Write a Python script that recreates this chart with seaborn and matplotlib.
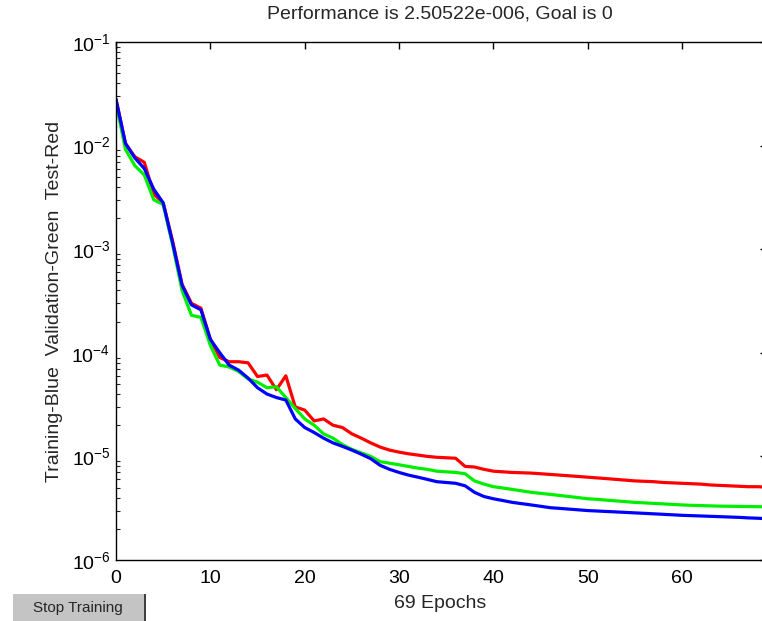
import numpy as np
import pandas as pd
import matplotlib
matplotlib.use("Agg")
import matplotlib.pyplot as plt
import seaborn as sns
from matplotlib.patches import Rectangle
from matplotlib.ticker import LogLocator, LogFormatterSciNotation, FixedLocator

# ---------------- data ----------------
epochs = list(range(70))

train_blue = [
    0.028, 0.0105, 0.0076, 0.0060, 0.0038, 0.0028, 0.00115, 0.00045, 0.00029, 0.00026,
    1.35e-4, 1.0e-4, 7.6e-5, 6.8e-5, 5.7e-5, 4.6e-5, 4.0e-5, 3.7e-5, 3.5e-5, 2.3e-5,
    1.9e-5, 1.7e-5, 1.5e-5, 1.35e-5, 1.25e-5, 1.15e-5, 1.05e-5, 9.5e-6, 8.2e-6, 7.5e-6,
    7.0e-6, 6.6e-6, 6.3e-6, 6.0e-6, 5.7e-6, 5.6e-6, 5.5e-6, 5.2e-6, 4.5e-6, 4.1e-6,
    3.9e-6, 3.75e-6, 3.6e-6, 3.5e-6, 3.4e-6, 3.3e-6, 3.2e-6, 3.15e-6, 3.1e-6, 3.05e-6,
    3.0e-6, 2.97e-6, 2.94e-6, 2.91e-6, 2.88e-6, 2.85e-6, 2.82e-6, 2.79e-6, 2.76e-6, 2.73e-6,
    2.70e-6, 2.68e-6, 2.66e-6, 2.64e-6, 2.62e-6, 2.60e-6, 2.58e-6, 2.55e-6, 2.53e-6, 2.505e-6,
]

valid_green = [
    0.026, 0.0092, 0.0064, 0.0052, 0.0030, 0.0027, 0.0011, 0.00040, 0.00023, 0.00022,
    1.18e-4, 7.6e-5, 7.3e-5, 6.6e-5, 5.6e-5, 5.2e-5, 4.6e-5, 4.7e-5, 3.7e-5, 2.9e-5,
    2.3e-5, 2.0e-5, 1.65e-5, 1.5e-5, 1.3e-5, 1.17e-5, 1.08e-5, 1.0e-5, 8.9e-6, 8.6e-6,
    8.3e-6, 8.0e-6, 7.7e-6, 7.5e-6, 7.2e-6, 7.1e-6, 7.0e-6, 6.8e-6, 5.8e-6, 5.4e-6,
    5.1e-6, 4.95e-6, 4.8e-6, 4.65e-6, 4.5e-6, 4.4e-6, 4.3e-6, 4.2e-6, 4.1e-6, 4.0e-6,
    3.9e-6, 3.85e-6, 3.78e-6, 3.72e-6, 3.66e-6, 3.6e-6, 3.56e-6, 3.52e-6, 3.48e-6, 3.44e-6,
    3.4e-6, 3.37e-6, 3.35e-6, 3.33e-6, 3.31e-6, 3.3e-6, 3.29e-6, 3.28e-6, 3.27e-6, 3.26e-6,
]

test_red = [
    0.028, 0.0105, 0.0078, 0.0069, 0.0034, 0.0028, 0.0012, 0.00046, 0.00030, 0.00027,
    1.35e-4, 9.0e-5, 8.2e-5, 8.2e-5, 8.0e-5, 5.9e-5, 6.1e-5, 4.4e-5, 6.0e-5, 3.0e-5,
    2.8e-5, 2.2e-5, 2.3e-5, 2.0e-5, 1.9e-5, 1.65e-5, 1.5e-5, 1.35e-5, 1.23e-5, 1.15e-5,
    1.1e-5, 1.06e-5, 1.03e-5, 1.0e-5, 9.8e-6, 9.7e-6, 9.6e-6, 8.0e-6, 7.9e-6, 7.5e-6,
    7.2e-6, 7.1e-6, 7.0e-6, 6.95e-6, 6.9e-6, 6.8e-6, 6.7e-6, 6.6e-6, 6.5e-6, 6.4e-6,
    6.3e-6, 6.2e-6, 6.1e-6, 6.0e-6, 5.9e-6, 5.8e-6, 5.75e-6, 5.7e-6, 5.6e-6, 5.55e-6,
    5.5e-6, 5.45e-6, 5.4e-6, 5.3e-6, 5.25e-6, 5.2e-6, 5.15e-6, 5.1e-6, 5.1e-6, 5.05e-6,
]

x_ticks = [0, 10, 20, 30, 40, 50, 60]
title_text = "Performance is 2.50522e-006, Goal is 0"
x_label = "69 Epochs"
y_label = "Training-Blue  Validation-Green  Test-Red"
button_text = "Stop Training"

# ---------------- styling ----------------
sns.set_style("white")
plt.rcParams["font.family"] = ["Liberation Sans", "DejaVu Sans"]
plt.rcParams["mathtext.default"] = "regular"
plt.rcParams["mathtext.fontset"] = "custom"
plt.rcParams["mathtext.rm"] = "Liberation Sans"

W, H = 762, 621
fig = plt.figure(figsize=(W / 100, H / 100), dpi=100)
fig.patch.set_facecolor("white")

# axes: left spine at x=116, top at y=42, bottom at y=560, right (off image) at x=767
ax = fig.add_axes([116 / W, (H - 560) / H, (767 - 116) / W, (560 - 42) / H])
ax.set_facecolor("white")

df = pd.DataFrame({
    "epoch": epochs * 3,
    "perf": test_red + valid_green + train_blue,
    "series": ["Test"] * 70 + ["Validation"] * 70 + ["Training"] * 70,
})
palette = {"Test": "#ff0000", "Validation": "#00ee00", "Training": "#0000ff"}
for name in ["Test", "Validation", "Training"]:
    sns.lineplot(data=df[df["series"] == name], x="epoch", y="perf",
                 color=palette[name], linewidth=2.3, ax=ax, legend=False)

ax.set_yscale("log")
ax.set_xlim(0, 69)
ax.set_ylim(1e-6, 1e-1)

ax.xaxis.set_major_locator(FixedLocator(x_ticks))
ax.yaxis.set_major_locator(LogLocator(base=10, numticks=10))
ax.yaxis.set_minor_locator(LogLocator(base=10, subs=np.arange(2, 10), numticks=20))
ax.yaxis.set_major_formatter(LogFormatterSciNotation())

for s in ax.spines.values():
    s.set_color("black")
    s.set_linewidth(1.0)
    s.set_visible(True)

ax.tick_params(axis="both", which="major", direction="in", length=5, width=1,
               top=True, right=True, labelsize=14, colors="black")
ax.tick_params(axis="y", which="minor", direction="in", length=3, width=0.8,
               left=True, right=True)
ax.tick_params(axis="x", which="major", pad=7)
ax.tick_params(axis="y", which="major", pad=4)

ax.set_xlabel(x_label, fontsize=14)
ax.xaxis.set_label_coords((440 - 116) / 651, (560 - 595) / 518)
ax.set_ylabel(y_label, fontsize=14)
ax.yaxis.set_label_coords((63 - 116) / 651, 0.5)

fig.text(440 / W, 1 - 14 / H, title_text, ha="center", va="center", fontsize=14)

# Stop Training button
fig.patches.append(Rectangle((13 / W, 0), (145 - 13) / W, (H - 594) / H,
                             transform=fig.transFigure, facecolor="#c4c4c4",
                             edgecolor="none", zorder=5))
fig.patches.append(Rectangle((144 / W, 0), 2 / W, (H - 594) / H,
                             transform=fig.transFigure, facecolor="#404040",
                             edgecolor="none", zorder=6))
fig.text(78 / W, 1 - 608 / H, button_text, ha="center", va="center",
         fontsize=11, zorder=7)

fig.savefig("out.png", dpi=100, facecolor="white")
